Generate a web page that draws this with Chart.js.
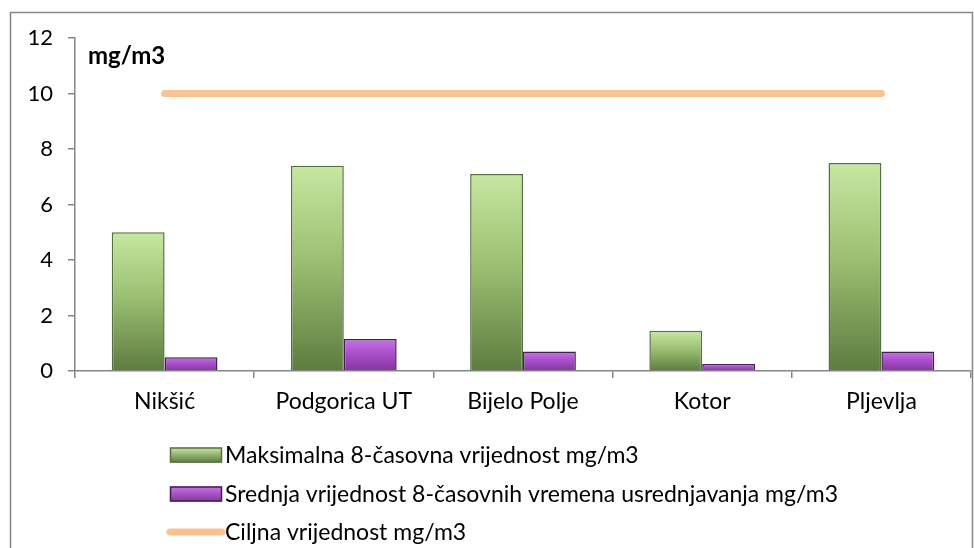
<!DOCTYPE html>
<html>
<head>
<meta charset="utf-8">
<script src="https://cdn.jsdelivr.net/npm/chart.js@4/dist/chart.umd.min.js"></script>
<style>
  html, body { margin: 0; padding: 0; background: #fff; }
  canvas { display: block; }
</style>
</head>
<body>
<canvas id="myChart" width="974" height="548"></canvas>
<script>
// podaci
var gradovi = ['Nikšić', 'Podgorica UT', 'Bijelo Polje', 'Kotor', 'Pljevlja'];
var maksimalna = [5.0, 7.4, 7.1, 1.45, 7.5];
var srednja = [0.5, 1.15, 0.7, 0.25, 0.7];
var ciljna = [10, 10, 10, 10, 10];
var yTicks = [0, 2, 4, 6, 8, 10, 12];

var nazivi = [
    'Maksimalna 8-časovna vrijednost mg/m3',
    'Srednja vrijednost 8-časovnih vremena usrednjavanja mg/m3',
    'Ciljna vrijednost mg/m3'
];

var FONT = 'Lato, "Open Sans", sans-serif';
var SIVA = '#868686';

function gradijentBar(boje, fallback) {
    return function (context) {
        var chart = context.chart;
        if (!chart.chartArea || context.type !== 'data') return fallback;
        var y = chart.scales.y;
        var top = y.getPixelForValue(context.raw);
        var base = y.getPixelForValue(0);
        if (!isFinite(top) || !isFinite(base) || top === base) return fallback;
        var g = chart.ctx.createLinearGradient(0, top, 0, base);
        g.addColorStop(0, boje[0]);
        g.addColorStop(0.45, boje[1]);
        g.addColorStop(1, boje[2]);
        return g;
    };
}

var zelena = ['#c6e7a1', '#9cc173', '#5d7c40'];
var ljubicasta = ['#c873e6', '#a94fcc', '#84369f'];

// okvir oko grafika
var okvirPlugin = {
    id: 'okvir',
    beforeDraw: function (chart) {
        var c = chart.ctx;
        c.save();
        c.strokeStyle = SIVA;
        c.lineWidth = 1.5;
        c.strokeRect(10.5, 12.5, 962, 600);
        c.restore();
    }
};

// natpis jedinice unutar grafika
var jedinicaPlugin = {
    id: 'jedinica',
    afterDraw: function (chart) {
        var c = chart.ctx;
        var a = chart.chartArea;
        c.save();
        c.font = 'bold 24px ' + FONT;
        c.fillStyle = '#000';
        c.textBaseline = 'middle';
        c.fillText('mg/m3', a.left + 13, a.top + 18);
        c.restore();
    }
};

// legenda, vertikalno ispod osi
var legendaPlugin = {
    id: 'legenda',
    afterDraw: function (chart) {
        var c = chart.ctx;
        var x0 = 170, w = 52, h = 15;
        var redovi = [455, 494, 532];
        c.save();
        c.font = '23px ' + FONT;
        c.textBaseline = 'middle';
        chart.data.datasets.forEach(function (ds, i) {
            var yc = redovi[i];
            if (ds.type === 'line') {
                c.strokeStyle = ds.borderColor;
                c.lineWidth = 7;
                c.lineCap = 'round';
                c.beginPath();
                c.moveTo(x0, yc);
                c.lineTo(x0 + w, yc);
                c.stroke();
            } else {
                var boje = i === 0 ? zelena : ljubicasta;
                var g = c.createLinearGradient(0, yc - h / 2, 0, yc + h / 2);
                g.addColorStop(0, boje[0]);
                g.addColorStop(1, boje[2]);
                c.fillStyle = g;
                c.fillRect(x0, yc - h / 2, w, h);
                c.strokeStyle = ds.borderColor;
                c.lineWidth = 1.5;
                c.strokeRect(x0 + 0.5, yc - h / 2 + 0.5, w - 1, h - 1);
            }
            c.fillStyle = '#000';
            c.fillText(ds.label, x0 + w + 3, yc + 1);
        });
        c.restore();
    }
};

document.addEventListener('DOMContentLoaded', function () {
    var ctx = document.getElementById('myChart').getContext('2d');

    var myChart = new Chart(ctx, {
        type: 'bar',
        data: {
            labels: gradovi,
            datasets: [{
                label: nazivi[0],
                data: maksimalna,
                backgroundColor: gradijentBar(zelena, '#9cc173'),
                borderColor: '#5a6e44',
                borderWidth: 1.5,
                borderSkipped: 'bottom',
                categoryPercentage: 0.59,
                barPercentage: 1.0,
                order: 1
            }, {
                label: nazivi[1],
                data: srednja,
                backgroundColor: gradijentBar(ljubicasta, '#a94fcc'),
                borderColor: '#3f2150',
                borderWidth: 1.5,
                borderSkipped: 'bottom',
                categoryPercentage: 0.59,
                barPercentage: 1.0,
                order: 1
            }, {
                type: 'line',
                label: nazivi[2],
                data: ciljna,
                borderColor: '#fac191',
                borderWidth: 7,
                borderCapStyle: 'round',
                pointRadius: 0,
                fill: false,
                order: 0
            }]
        },
        options: {
            responsive: false,
            animation: false,
            devicePixelRatio: 1,
            layout: {
                padding: { top: 38, right: 3, left: 0, bottom: 0 }
            },
            plugins: {
                legend: { display: false },
                tooltip: { enabled: false }
            },
            scales: {
                x: {
                    offset: true,
                    grid: {
                        display: true,
                        offset: true,
                        drawOnChartArea: false,
                        tickLength: 7,
                        color: SIVA,
                        lineWidth: 1.5
                    },
                    border: { color: SIVA, width: 1.5 },
                    ticks: {
                        color: '#000',
                        font: { family: FONT, size: 23 },
                        padding: 10,
                        maxRotation: 0
                    },
                    afterFit: function (scale) { scale.height = 548 - 371; }
                },
                y: {
                    min: 0,
                    max: 12,
                    afterBuildTicks: function (scale) {
                        scale.ticks = yTicks.map(function (v) { return { value: v }; });
                    },
                    grid: {
                        display: true,
                        drawOnChartArea: false,
                        tickLength: 7,
                        color: SIVA,
                        lineWidth: 1.5
                    },
                    border: { color: SIVA, width: 1.5 },
                    ticks: {
                        color: '#000',
                        font: { family: FONT, size: 22 },
                        padding: 15
                    },
                    afterFit: function (scale) { scale.width = 75; }
                }
            }
        },
        plugins: [okvirPlugin, jedinicaPlugin, legendaPlugin]
    });
});
</script>
</body>
</html>
